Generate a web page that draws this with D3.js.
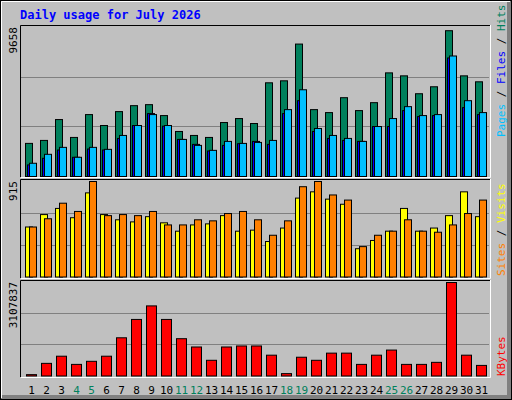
<!DOCTYPE html>
<html><head><meta charset="utf-8">
<script src="https://cdn.jsdelivr.net/npm/d3@7"></script>
<style>body{margin:0;background:#fff}text{font-family:"DejaVu Sans Mono",monospace}</style>
</head><body><div id="chart"></div>
<script>
const days = d3.range(1, 32)
const weekends = [4, 5, 11, 12, 18, 19, 25, 26]
const hits = [2146,2339,3691,2532,4013,3305,4206,4592,4657,3949,2919,2661,2532,3498,3756,3434,6073,6202,8584,4335,4142,5108,4271,4786,6717,6524,5365,5816,9450,6524,6138]
const files = [751,1180,1717,1245,1781,1717,2468,3305,4077,3262,2403,2082,1652,2017,2125,2275,2082,4077,4914,2919,2468,2339,2275,3240,3240,4271,3884,3949,7683,4464,4013]
const pages = [858,1438,1889,1245,1889,1760,2661,3305,4013,3305,2403,2017,1695,2275,2146,2210,2339,4335,5622,3112,2661,2468,2275,3240,3756,4528,3949,4013,7811,4914,4142]
const visits = [479,598,657,568,806,598,548,528,578,519,439,499,509,588,439,449,340,469,756,816,746,697,271,350,439,657,439,469,588,816,578]
const sites = [479,558,707,628,915,588,598,588,628,499,499,548,538,608,628,548,400,538,865,915,786,737,291,400,439,548,439,429,499,608,737]
const kbytes = [45000,420000,658000,386000,488000,658000,1270000,1880000,2330000,1880000,1240000,964000,522000,964000,998000,998000,692000,79000,624000,522000,760000,760000,386000,692000,862000,386000,386000,454000,3107837,692000,352000]
const maxHits = 9658, maxSites = 915, maxKb = 3107837

const W = 512, H = 400
const svg = d3.select('#chart').append('svg').attr('width', W).attr('height', H)
svg.append('rect').attr('width', W).attr('height', H).attr('fill', '#C0C0C0')
// bevel
svg.append('rect').attr('x', 507).attr('y', 0).attr('width', 5).attr('height', H).attr('fill', '#808080')
svg.append('rect').attr('x', 0).attr('y', 395).attr('width', W).attr('height', 5).attr('fill', '#808080')
svg.append('rect').attr('x', 0.5).attr('y', 0.5).attr('width', W - 1).attr('height', H - 1).attr('fill', 'none').attr('stroke', '#000')
svg.append('path').attr('d', 'M1.5,398V1.5H510').attr('stroke', '#fff').attr('fill', 'none')

svg.append('text').attr('x', 20).attr('y', 19).attr('fill', '#0000FF')
  .style('font-size', '12px').style('font-weight', 'bold').text('Daily usage for July 2026')

const x = d3.scaleBand().domain(days).range([25, 490]).paddingInner(0)
const x0 = d => 25 + 15 * (d - 1)

const panels = [
  { top: 25, bottom: 177, base: 176, max: maxHits, label: '9658' },
  { top: 179, bottom: 278, base: 276.5, max: maxSites, label: '915' },
  { top: 280, bottom: 377, base: 375.5, max: maxKb, label: '3107837' }
]
panels.forEach(p => {
  p.y = d3.scaleLinear().domain([0, p.max]).range([p.base, p.top + 2])
  const g = svg.append('g')
  ;[1 / 3, 2 / 3].forEach(f => {
    const yy = Math.round(p.y(p.max * f)) + 0.5
    g.append('line').attr('x1', 21).attr('x2', 489).attr('y1', yy).attr('y2', yy).attr('stroke', '#808080')
  })
  g.append('path').attr('d', `M20.5,${p.bottom}V${p.top + 0.5}H490`).attr('stroke', '#000').attr('fill', 'none')
  g.append('path').attr('d', `M21,${p.bottom + 0.5}H490.5V${p.top}`).attr('stroke', '#fff').attr('fill', 'none')
  g.append('text').attr('transform', `translate(17,${p.top + 2}) rotate(-90)`).attr('text-anchor', 'end')
    .style('font-size', '11px').attr('fill', '#000').text(p.label)
})

function bars(vals, p, off, w, color) {
  svg.append('g').selectAll('rect').data(vals).join('rect')
    .attr('x', (d, i) => x0(days[i]) + off + 0.5)
    .attr('y', d => p.y(d) + 0.5)
    .attr('width', w)
    .attr('height', d => p.base - p.y(d))
    .attr('fill', color).attr('stroke', '#000')
}
bars(hits, panels[0], 0, 7, '#00805C')
bars(files, panels[0], 2, 7, '#0000FF')
bars(pages, panels[0], 4, 7, '#00C0FF')
bars(visits, panels[1], 0, 7, '#FFFF00')
bars(sites, panels[1], 4, 7, '#FF8000')
bars(kbytes, panels[2], 1, 10, '#FF0000')

svg.append('g').selectAll('text').data(days).join('text')
  .attr('x', d => x(d) + x.bandwidth() / 2 - 1).attr('y', 394).attr('text-anchor', 'middle')
  .style('font-size', '11px').attr('fill', d => weekends.includes(d) ? '#00805C' : '#000').text(d => d)

function legend(yBottom, parts) {
  const t = svg.append('text').attr('transform', `translate(505,${yBottom}) rotate(-90)`).style('font-size', '11px')
  parts.forEach(([s, c]) => t.append('tspan').attr('fill', c).text(s))
}
legend(137, [['Pages', '#00C0FF'], [' / ', '#000'], ['Files', '#0000FF'], [' / ', '#000'], ['Hits', '#00805C']])
legend(276, [['Sites', '#FF8000'], [' / ', '#000'], ['Visits', '#FFFF00']])
legend(376, [['KBytes', '#FF0000']])
</script></body></html>
